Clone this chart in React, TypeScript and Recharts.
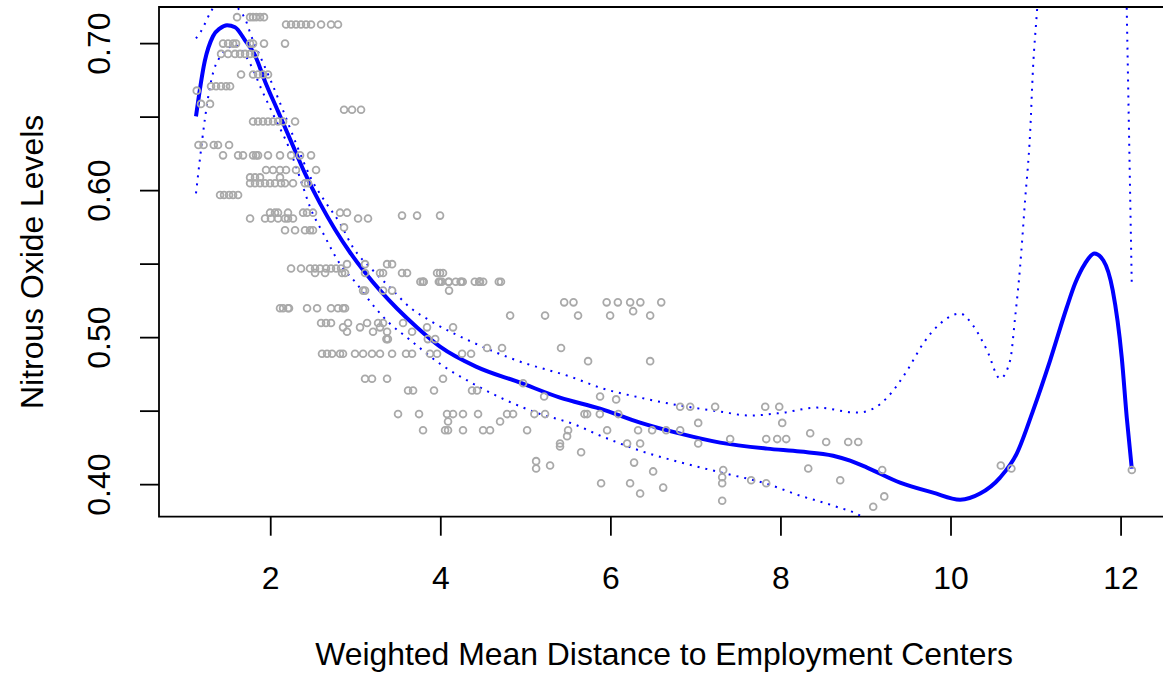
import React from 'react';
import { ComposedChart, Line, Scatter, XAxis, YAxis, ReferenceArea, Label } from 'recharts';

// observed points, grouped by nitrous oxide level
const noxLevels = [
  0.718, 0.713, 0.7, 0.693, 0.679, 0.671, 0.668, 0.659, 0.655, 0.647, 0.631, 0.624, 0.614, 0.609,
  0.605, 0.597, 0.585, 0.583, 0.581, 0.575, 0.573, 0.55, 0.547, 0.544, 0.538, 0.532, 0.524, 0.52,
  0.518, 0.515, 0.51, 0.507, 0.504, 0.499, 0.493, 0.489, 0.484, 0.472, 0.469, 0.464, 0.46, 0.458,
  0.453, 0.448, 0.443, 0.442, 0.437, 0.435, 0.433, 0.431, 0.429, 0.428, 0.426, 0.422, 0.416,
  0.415, 0.413, 0.411, 0.41, 0.409, 0.405, 0.403, 0.401, 0.398, 0.394, 0.392, 0.389, 0.385,
];

const disByLevel = [
  [1.604, 1.757, 1.792, 1.827, 1.874, 1.921],
  [2.18, 2.239, 2.297, 2.356, 2.415, 2.474, 2.592, 2.709, 2.791],
  [1.439, 1.498, 1.557, 1.592, 1.757, 1.792, 1.921, 2.168],
  [1.416, 1.498, 1.58, 1.639, 1.698, 1.757, 1.815],
  [1.651, 1.792, 1.851, 1.909, 1.968],
  [1.298, 1.357, 1.416, 1.475, 1.522],
  [1.1296],
  [1.18, 1.286],
  [2.862, 2.956, 3.062],
  [1.792, 1.851, 1.909, 1.968, 2.027, 2.086, 2.145, 2.286],
  [1.15, 1.21, 1.33, 1.38, 1.51],
  [1.439, 1.616, 1.674, 1.792, 1.827, 1.851, 1.968, 2.109, 2.239, 2.345, 2.474],
  [1.945, 2.027, 2.109, 2.18, 2.297, 2.533],
  [1.757, 1.815, 1.874, 2.109],
  [1.757, 1.815, 1.874, 1.933, 1.992, 2.05, 2.121, 2.168, 2.262, 2.403, 2.439],
  [1.404, 1.451, 1.51, 1.557, 1.616],
  [1.992, 2.05, 2.086, 2.203, 2.38, 2.427, 2.497, 2.815, 2.897],
  [3.544, 3.721, 3.991],
  [1.757, 1.933, 2.003, 2.086, 2.168, 2.203, 2.262, 3.027, 3.144],
  [2.862],
  [2.168, 2.286, 2.403, 2.462, 2.497],
  [2.897, 3.109, 3.368, 3.427],
  [2.239, 2.356, 2.462, 2.521, 2.58, 2.65, 2.709, 2.768, 2.827],
  [2.521, 2.639, 2.839, 2.874, 3.109, 3.285, 3.321, 3.544, 3.603, 3.956, 3.991, 4.026],
  [4.09, 4.7075, 4.4619, 4.4986, 4.2579, 3.7965, 3.7979, 4.0123, 3.9769, 4.0952, 4.3996, 4.4546, 4.682, 4.4534, 4.4547, 4.239, 4.233, 4.175, 3.99, 3.7872, 3.7598],
  [3.086, 3.109, 3.321, 3.427, 4.097],
  [5.5605, 5.9505, 6.0821, 6.5921, 6.3467, 6.2267, 5.4509],
  [2.109, 2.145, 2.203, 2.215, 2.427, 2.545, 2.709, 2.791, 2.85, 2.874],
  [6.262],
  [4.815, 5.226, 5.614, 5.991, 6.462],
  [2.592, 2.65, 2.709, 2.909, 3.133, 3.262, 3.321, 3.556],
  [2.85, 3.05, 3.285, 3.838, 4.144],
  [2.897, 3.203, 3.368, 3.662],
  [3.3603, 3.3779, 3.9342, 3.8473],
  [4.544, 4.72, 5.414],
  [2.603, 2.662, 2.721, 2.815, 2.85, 2.991, 3.086, 3.191, 3.285, 3.427, 3.591, 3.662, 3.873, 3.956, 4.25, 4.356],
  [5.732, 6.462],
  [3.109, 3.191, 3.368, 4.026],
  [4.968],
  [3.615, 3.674, 3.92, 4.367, 4.426],
  [5.215, 5.873],
  [6.0622],
  [6.815, 6.933, 7.226, 7.815, 7.98],
  [3.497, 3.744, 4.073, 4.144, 4.261, 4.438, 4.779, 4.85, 5.1004, 5.226, 5.6894, 5.7209, 5.87, 6.0877],
  [4.085, 4.697],
  [7.027, 8.015],
  [3.791, 4.05, 4.085, 4.261, 4.497, 4.579, 5.015, 5.497, 5.956, 6.32, 6.485, 6.65, 6.815],
  [8.344],
  [5.485],
  [7.403, 7.827, 7.956, 8.062],
  [8.532, 8.791, 8.909],
  [5.402, 6.191, 6.344, 7.027],
  [5.402],
  [5.65],
  [5.121],
  [6.273],
  [5.285, 10.5857],
  [5.121, 8.321, 10.7103],
  [7.321, 9.191, 12.1265],
  [6.497],
  [7.309],
  [7.65, 8.697],
  [5.885, 6.226, 7.309, 7.827],
  [6.615],
  [6.344],
  [9.215],
  [7.309],
  [9.085],
];

// fitted spline
const fitDis = [
  1.121, 1.224, 1.321, 1.404, 1.486, 1.58, 1.698, 1.815, 1.933, 2.086, 2.239, 2.403, 2.58, 2.756,
  2.933, 3.109, 3.285, 3.485, 3.721, 3.991, 4.414, 4.932, 5.402, 5.873, 6.344, 6.815, 7.285, 7.837,
  8.225, 8.614, 8.813, 9.013, 9.401, 9.789, 10.107, 10.342, 10.577, 10.773, 10.965, 11.165, 11.361,
  11.459, 11.576, 11.686, 11.792, 11.902, 12.008, 12.067, 12.126,
];
const fitNox = [
  0.6505, 0.688, 0.705, 0.7104, 0.7125, 0.7111, 0.7022, 0.692, 0.6743, 0.6539, 0.6335, 0.6117,
  0.5913, 0.5736, 0.5579, 0.5443, 0.5321, 0.5198, 0.5069, 0.4939, 0.4803, 0.4694, 0.4592, 0.4517,
  0.4422, 0.4347, 0.4286, 0.4245, 0.4225, 0.4197, 0.4163, 0.4116, 0.4014, 0.3946, 0.3898, 0.3939,
  0.4048, 0.4211, 0.4504, 0.4844, 0.5205, 0.5368, 0.5504, 0.5573, 0.5525, 0.5321, 0.4865, 0.4456,
  0.4109,
];

// upper and lower bands (fit +/- 2 se)
const upperDis = [
  1.121, 1.18, 1.286, 1.35, 1.45, 1.55, 1.616, 1.71, 1.768, 1.886, 2.004, 2.168, 2.321, 2.474, 2.639,
  2.815, 2.968, 3.203, 3.403, 3.638, 3.873, 4.379, 4.897, 5.556, 5.873, 6.344, 6.815, 7.285, 7.638,
  8.026, 8.426, 8.896, 9.085, 9.249, 9.484, 9.673, 9.873, 10.107, 10.26, 10.425, 10.577, 10.695,
  10.754, 10.812, 10.871, 10.93, 10.965, 11.012, 11.1, 11.3, 11.6, 11.8, 12.0, 12.067, 12.126,
];
const upperNox = [
  0.7036, 0.7084, 0.7206, 0.7265, 0.7285, 0.727, 0.724, 0.7152, 0.7057, 0.69, 0.6743, 0.6512, 0.6287,
  0.6083, 0.5926, 0.5777, 0.5613, 0.5457, 0.5341, 0.5205, 0.5116, 0.4967, 0.4844, 0.4728, 0.466,
  0.4592, 0.4538, 0.4497, 0.447, 0.449, 0.4524, 0.449, 0.4517, 0.4592, 0.4776, 0.496, 0.5096, 0.5164,
  0.5082, 0.4912, 0.4722, 0.4844, 0.5137, 0.5477, 0.5933, 0.6389, 0.6839, 0.7227, 0.8, 0.95, 1.05,
  1.05, 0.93, 0.7227, 0.5355,
];
const lowerDis = [
  1.121, 1.168, 1.227, 1.298, 1.416, 1.58, 1.768, 1.886, 2.05, 2.203, 2.36, 2.462, 2.619, 2.815,
  3.011, 3.207, 3.403, 3.599, 3.991, 4.383, 4.776, 5.167, 5.559, 5.873, 6.344, 6.815, 7.285, 7.837,
  8.225, 8.614, 8.966, 9.5, 10.0, 10.5, 11.0, 11.5, 12.126,
];
const lowerNox = [
  0.5981, 0.6219, 0.6492, 0.6743, 0.692, 0.6988, 0.6852, 0.6696, 0.6492, 0.6308, 0.606, 0.5888,
  0.5707, 0.55, 0.5366, 0.5218, 0.5094, 0.5003, 0.4822, 0.4686, 0.4572, 0.4481, 0.4413, 0.4334,
  0.4231, 0.4152, 0.4084, 0.4005, 0.3925, 0.3857, 0.3777, 0.345, 0.3, 0.25, 0.15, 0.1, 0.25,
];

const xTicks = [2, 4, 6, 8, 10, 12];
const yTicks = [0.4, 0.45, 0.5, 0.55, 0.6, 0.65, 0.7];

const points = noxLevels.flatMap((nox, i) => disByLevel[i].map((dis) => ({ x: dis, y: nox })));
const toXY = (xs: number[], ys: number[]) => xs.map((x, i) => ({ x, y: ys[i] }));
const fitData = toXY(fitDis, fitNox);
const upperData = toXY(upperDis, upperNox);
const lowerData = toXY(lowerDis, lowerNox);

const FONT = '"Liberation Sans", Arial, Helvetica, sans-serif';
const FONT_SIZE = 31.9;
const X_DOMAIN: [number, number] = [0.686, 12.566];
const Y_DOMAIN: [number, number] = [0.3782, 0.7249];

const XTick = ({ x, y, payload }: any) => (
  <text x={x} y={y + 53.3} textAnchor="middle" fontSize={FONT_SIZE} fontFamily={FONT} fill="#000">
    {payload.value}
  </text>
);

const YTick = ({ x, y, payload }: any) => {
  const v = payload.value;
  if (Math.abs(v * 10 - Math.round(v * 10)) > 1e-6) return <g />;
  const tx = x - 29.5;
  return (
    <text x={tx} y={y} transform={`rotate(-90, ${tx}, ${y})`} textAnchor="middle" fontSize={FONT_SIZE} fontFamily={FONT} fill="#000">
      {v.toFixed(2)}
    </text>
  );
};

const Circle = (props: any) => (
  <circle cx={props.cx} cy={props.cy} r={3.4} fill="none" stroke="#A9A9A9" strokeWidth={1.8} />
);

const App: React.FC = () => {
  return (
    <div style={{ position: 'absolute', left: 0, top: 0, width: 1163, height: 673, overflow: 'hidden', background: '#fff' }}>
      <ComposedChart width={1180} height={673} margin={{ top: 7, right: 10.8, bottom: 0, left: 0 }}>
        <XAxis
          type="number"
          dataKey="x"
          domain={X_DOMAIN}
          allowDataOverflow
          ticks={xTicks}
          interval={0}
          height={156.3}
          tickSize={19}
          tickMargin={0}
          axisLine={false}
          tickLine={{ stroke: '#000', strokeWidth: 1.8 }}
          tick={<XTick />}
        >
          <Label
            content={({ viewBox }: any) => (
              <text x={viewBox.x + viewBox.width / 2} y={665} textAnchor="middle" fontSize={FONT_SIZE} fontFamily={FONT} fill="#000">
                Weighted Mean Distance to Employment Centers
              </text>
            )}
          />
        </XAxis>
        <YAxis
          type="number"
          dataKey="y"
          domain={Y_DOMAIN}
          allowDataOverflow
          ticks={yTicks}
          interval={0}
          width={159}
          tickSize={19}
          tickMargin={0}
          axisLine={false}
          tickLine={{ stroke: '#000', strokeWidth: 1.8 }}
          tick={<YTick />}
        >
          <Label
            content={({ viewBox }: any) => {
              const cy = viewBox.y + viewBox.height / 2;
              return (
                <text x={43} y={cy} transform={`rotate(-90, 43, ${cy})`} textAnchor="middle" fontSize={FONT_SIZE} fontFamily={FONT} fill="#000">
                  Nitrous Oxide Levels
                </text>
              );
            }}
          />
        </YAxis>
        <Scatter data={points} fill="none" shape={<Circle />} isAnimationActive={false} />
        <ReferenceArea x1={X_DOMAIN[0]} x2={X_DOMAIN[1]} y1={Y_DOMAIN[0]} y2={Y_DOMAIN[1]} fill="none" fillOpacity={0} stroke="#000" strokeWidth={1.8} ifOverflow="visible" />
        <Line data={upperData} dataKey="y" type="monotone" stroke="#0000FF" strokeWidth={2} strokeDasharray="2 6" dot={false} activeDot={false} isAnimationActive={false} />
        <Line data={lowerData} dataKey="y" type="monotone" stroke="#0000FF" strokeWidth={2} strokeDasharray="2 6" dot={false} activeDot={false} isAnimationActive={false} />
        <Line data={fitData} dataKey="y" type="monotone" stroke="#0000FF" strokeWidth={4} strokeLinejoin="round" dot={false} activeDot={false} isAnimationActive={false} />
      </ComposedChart>
    </div>
  );
};

export default App;
